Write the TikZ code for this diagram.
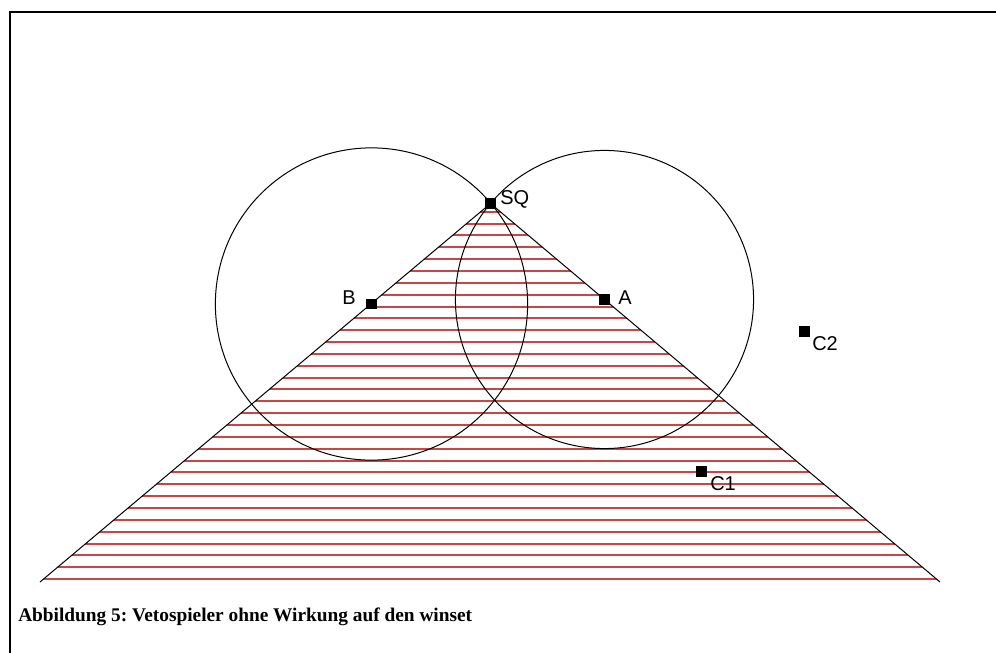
\documentclass[tikz,border=0pt]{standalone}
\usepackage{fontspec}
\setmainfont{Liberation Serif}
\newfontfamily\labelfont{Liberation Sans}
\definecolor{hatchred}{RGB}{200,70,70}
\frenchspacing
\begin{document}
\begin{tikzpicture}[x=0.75pt,y=-0.75pt,
  pt/.style={rectangle,fill=black,minimum size=7.5pt,inner sep=0pt},
  lbl/.style={font=\labelfont\fontsize{15}{17}\selectfont,inner sep=0pt},
  hatch/.style={draw=hatchred,line width=1.5pt},
  thin line/.style={draw=black,line width=0.75pt}]
\useasboundingbox (0,0) rectangle (996,653);
% frame
\draw[line width=1.5pt] (10,653) -- (10,12) -- (996,12);
% points
\coordinate (L) at (40,582);
\coordinate (R) at (940,582);
\node[pt] (SQ) at (490.5,203.5) {};
\node[pt] (B) at (371.5,304) {};
\node[pt] (A) at (604.5,299.5) {};
\node[pt] (C2) at (804.5,331.5) {};
\node[pt] (C1) at (701.5,471.5) {};
% hatching
\begin{scope}
  \clip (SQ.center) -- (L) -- (R) -- cycle;
  \foreach \i in {0,...,31}{
    \pgfmathsetmacro\yy{round(211.7+\i*11.85)}
    \draw[hatch] (0,\yy) -- (996,\yy);
  }
\end{scope}
% triangle sides
\draw[thin line] (L) -- (SQ.center) -- (R);
% circles
\draw[thin line] (B.center) circle[radius=117.1pt];
\draw[thin line] (A.center) circle[radius=111.8pt];
% redraw points on top
\foreach \n in {SQ,B,A,C2,C1} \fill (\n.north west) rectangle (\n.south east);
% labels
\node[lbl,anchor=west] (lSQ) at (500,199) {SQ};
\node[lbl,anchor=east] (lB) at (356,298) {B};
\node[lbl,anchor=west] (lA) at (618,298) {A};
\node[lbl,anchor=west] (lC2) at (812,344) {C2};
\node[lbl,anchor=west] (lC1) at (710,484) {C1};
% caption
\node[anchor=base west,inner sep=0pt,font=\bfseries\fontsize{14.5}{17}\selectfont] (cap) at (18,621) {Abbildung 5: Vetospieler ohne Wirkung auf den winset};
\end{tikzpicture}
\end{document}
